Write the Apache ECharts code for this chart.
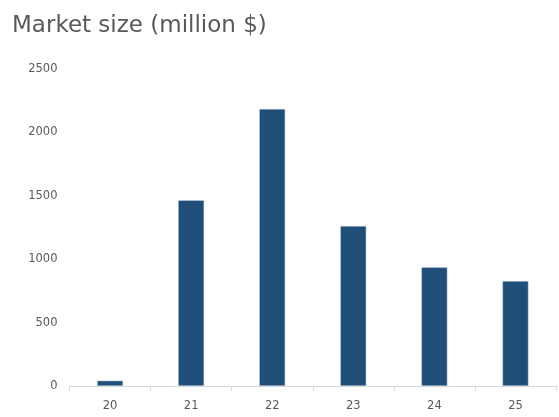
<!DOCTYPE html>
<html><head><meta charset="utf-8">
<script src="https://cdn.jsdelivr.net/npm/echarts@6/dist/echarts.min.js"></script>
<style>html,body{margin:0;padding:0;background:#fff}#c{width:559px;height:417px}</style>
</head><body><div id="c"></div>
<script>
const categories = ['20','21','22','23','24','25'];
const marketSize = [42, 1465, 2185, 1262, 936, 828];
const yTicks = [0, 500, 1000, 1500, 2000, 2500];

const chart = echarts.init(document.getElementById('c'), null, {renderer:'canvas'});
chart.setOption({
  animation:false,
  title:{text:'Market size (million $)', left:7, top:10,
    textStyle:{fontFamily:'DejaVu Sans', fontSize:23, fontWeight:'normal', color:'#595959'}},
  grid:{left:69.5, right:3, top:69, bottom:31, containLabel:false},
  xAxis:{type:'category', data:categories,
    axisLine:{lineStyle:{color:'#d9d9d9'}},
    axisTick:{show:true, length:5, lineStyle:{color:'#d9d9d9'}},
    axisLabel:{color:'#595959', fontSize:11.5, fontFamily:'DejaVu Sans', margin:14}},
  yAxis:{type:'value', min:yTicks[0], max:yTicks[yTicks.length-1], interval:500,
    axisLine:{show:false}, axisTick:{show:false}, splitLine:{show:false},
    axisLabel:{color:'#595959', fontSize:11.5, fontFamily:'DejaVu Sans', margin:12,
      formatter:function(v){return String(v);}}},
  series:[{type:'bar', data:marketSize, barWidth:26,
    itemStyle:{color:'#1F4E79', borderColor:'#c9d6e3', borderWidth:0.5}}]
});
</script></body></html>
